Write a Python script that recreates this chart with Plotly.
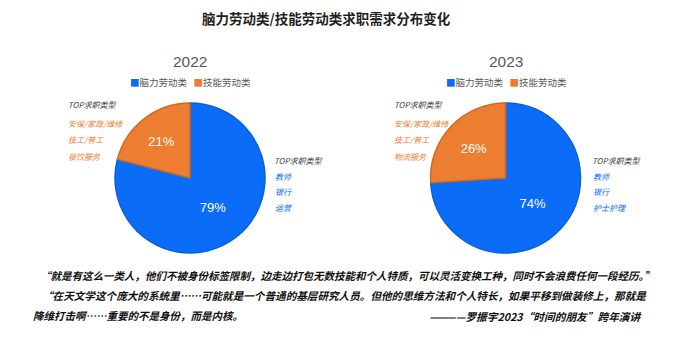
import plotly.graph_objects as go

# ---- data ----
categories = ["脑力劳动类", "技能劳动类"]
years = ["2022", "2023"]
share_2022 = [79, 21]
share_2023 = [74, 26]
top_skill_2022 = ["安保/家政/维修", "技工/普工", "餐饮服务"]
top_brain_2022 = ["教师", "银行", "运营"]
top_skill_2023 = ["安保/家政/维修", "技工/普工", "物流服务"]
top_brain_2023 = ["教师", "银行", "护士护理"]
title_text = "脑力劳动类/技能劳动类求职需求分布变化"
quote_lines = [
    "“就是有这么一类人，他们不被身份标签限制，边走边打包无数技能和个人特质，可以灵活变换工种，同时不会浪费任何一段经历。”",
    "“在天文学这个庞大的系统里……可能就是一个普通的基层研究人员。但他的思维方法和个人特长，如果平移到做装修上，那就是",
    "降维打击啊……重要的不是身份，而是内核。",
]
attribution = "————罗振宇2023“时间的朋友”跨年演讲"

# ---- style ----
W, H = 695, 363
colors = ["#0A6CF7", "#ED7D31"]
border = ["#0A5FD8", "#CF6A22"]
FONT = "Noto Sans CJK SC"
LATIN = "Liberation Sans, Noto Sans CJK SC"

def px_x(x):
    return x / W

def px_y(y):
    return 1 - y / H

fig = go.Figure()

pies = [
    (share_2022, 115, 265, 103, 253),
    (share_2023, 430.5, 580.5, 103, 253),
]
for vals, x0, x1, y0, y1 in pies:
    fig.add_trace(go.Pie(
        labels=categories,
        values=vals,
        sort=False,
        direction="clockwise",
        rotation=0,
        marker=dict(colors=colors, line=dict(color=border, width=1.5)),
        textinfo="percent",
        texttemplate="%{percent:.0%}",
        textposition="inside",
        insidetextorientation="horizontal",
        textfont=dict(family=LATIN, size=13, color="white"),
        hoverinfo="label+percent",
        showlegend=False,
        domain=dict(x=[px_x(x0), px_x(x1)], y=[px_y(y1), px_y(y0)]),
    ))

ann = []
def add_text(x, y, text, size, color, anchor="left", bold=False, italic=False, family=FONT):
    ann.append(dict(
        x=px_x(x), y=px_y(y), xref="paper", yref="paper",
        xanchor=anchor, yanchor="middle", showarrow=False, text=text,
        font=dict(family=family, size=size, color=color,
                  weight="bold" if bold else "normal",
                  style="italic" if italic else "normal"),
    ))

add_text(326, 18, title_text, 13.5, "#1f1f1f", anchor="center", bold=True)

for yr, cx in zip(years, [190, 505.5]):
    add_text(cx, 62, yr, 15.5, "#595959", anchor="center", family=LATIN)
    legend_txt = "   ".join(
        f'<span style="color:{c}">■</span>{lab}' for c, lab in zip(colors, categories)
    )
    add_text(cx + 1, 82, legend_txt, 9.5, "#595959", anchor="center")

label_sets = [
    (top_skill_2022, top_brain_2022, 66, 272),
    (top_skill_2023, top_brain_2023, 392, 590),
]
for skill, brain, lx, rx in label_sets:
    add_text(lx, 105, "TOP求职类型", 8, "#404040", italic=True)
    for i, s in enumerate(skill):
        add_text(lx, 123 + i * 16.5, s, 8, colors[1], italic=True)
    add_text(rx, 160, "TOP求职类型", 8, "#404040", italic=True)
    for i, s in enumerate(brain):
        add_text(rx + 1, 176 + i * 15.5, s, 8, colors[0], italic=True, anchor="left")

QC = "#111111"
add_text(38, 275, quote_lines[0], 10.5, QC, bold=True, italic=True)
add_text(40, 295, quote_lines[1], 10.6, QC, bold=True, italic=True)
add_text(31, 315, quote_lines[2], 10.5, QC, bold=True, italic=True)
add_text(644, 316, attribution, 10.7, QC, anchor="right", bold=True, italic=True)

fig.update_layout(
    width=W, height=H,
    margin=dict(l=0, r=0, t=0, b=0),
    paper_bgcolor="white", plot_bgcolor="white",
    annotations=ann,
    font=dict(family=FONT),
)

fig.write_html("out.html")
